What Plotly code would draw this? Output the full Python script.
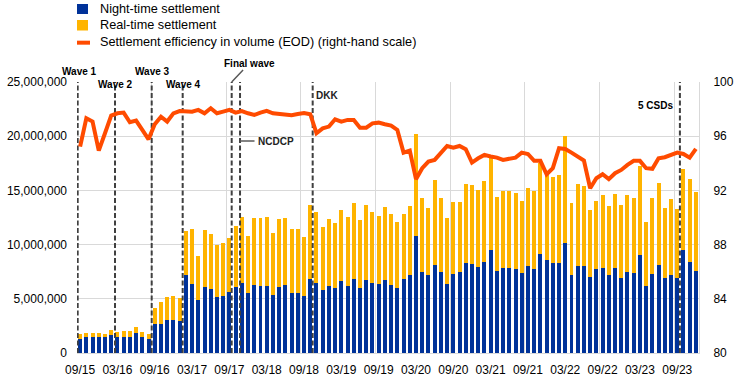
import plotly.graph_objects as go

# ---------------- data ----------------
# Monthly observations from 09/2015 to 12/2023 (100 months)
months = [f"{m:02d}/{y % 100:02d}" for y in range(2015, 2024) for m in range(1, 13)][8:]

night_m = [1.32, 1.44, 1.44, 1.44, 1.44, 1.69, 1.50, 1.50, 1.50, 1.87,
           1.44, 1.26, 2.70, 2.70, 3.01, 3.07, 2.98, 7.22, 6.39, 4.91,
           6.11, 5.93, 5.19, 5.28, 5.65, 6.11, 6.48, 5.56, 6.30, 6.20,
           6.20, 5.37, 6.11, 6.30, 5.56, 5.56, 5.28, 6.85, 6.48, 5.84,
           6.20, 6.02, 6.66, 6.20, 6.85, 6.02, 6.76, 6.48, 6.39, 6.76,
           6.30, 6.02, 6.85, 7.22, 10.81, 7.49, 7.22, 8.14, 7.49, 6.39,
           7.31, 7.49, 8.32, 8.23, 7.95, 8.42, 9.52, 7.59, 7.86, 7.86,
           7.77, 7.40, 8.05, 7.77, 9.15, 8.60, 8.32, 8.32, 10.17, 7.22,
           8.05, 8.05, 7.03, 7.77, 7.86, 7.22, 7.86, 6.94, 7.49, 7.40,
           9.06, 6.20, 7.31, 8.14, 6.94, 7.22, 6.94, 9.52, 8.42, 7.59]

total_m = [1.78, 1.87, 1.87, 1.87, 1.78, 2.15, 1.97, 2.06, 2.06, 2.43,
           1.97, 1.78, 4.18, 4.73, 5.19, 5.28, 5.10, 11.27, 11.46, 8.97,
           11.36, 11.00, 9.98, 10.17, 10.63, 11.73, 12.56, 10.81, 12.44, 12.50,
           12.56, 11.09, 12.38, 12.47, 11.46, 11.46, 10.72, 13.67, 13.02, 11.64,
           12.38, 12.01, 13.21, 12.56, 13.85, 12.29, 13.67, 13.02, 12.65, 13.48,
           12.84, 12.10, 12.84, 13.57, 20.21, 14.31, 13.39, 15.97, 14.31, 12.47,
           13.94, 13.94, 15.60, 15.51, 15.05, 15.88, 18.00, 14.40, 14.96, 14.96,
           14.77, 14.04, 15.23, 14.96, 17.54, 16.52, 16.25, 16.43, 20.02, 13.85,
           15.60, 15.42, 13.21, 14.04, 14.59, 13.57, 14.68, 13.67, 14.59, 14.31,
           17.26, 12.10, 14.31, 15.69, 13.39, 14.22, 13.30, 16.98, 16.06, 14.86]

efficiency = [95.23, 97.32, 97.08, 94.94, 96.22, 97.52, 97.69, 97.74, 97.03, 97.15,
              96.46, 95.77, 96.88, 97.44, 97.08, 97.69, 97.86, 97.86, 97.81, 97.94,
              97.69, 98.06, 97.69, 97.81, 97.94, 97.74, 97.85, 97.69, 97.57, 97.74,
              97.87, 97.69, 97.64, 97.62, 97.55, 97.64, 97.71, 97.62, 96.22, 96.58,
              96.71, 97.25, 97.08, 97.20, 97.20, 96.63, 96.63, 96.95, 97.00, 96.88,
              96.78, 96.46, 94.79, 94.94, 92.83, 93.64, 94.13, 94.25, 94.74, 95.28,
              95.16, 95.28, 95.04, 94.05, 94.37, 94.62, 94.50, 94.42, 94.25, 94.32,
              94.42, 94.79, 94.69, 94.18, 94.18, 93.19, 93.64, 95.11, 95.06, 94.79,
              94.45, 94.20, 92.16, 92.90, 93.19, 92.83, 93.27, 93.51, 93.88, 94.18,
              94.18, 93.64, 93.59, 94.37, 94.45, 94.62, 94.79, 94.69, 94.42, 95.06]

# Events (position in months from 09/2015)
event_names = ["Wave 1", "Wave 2", "Wave 3", "Wave 4", "Final wave", "NCDCP", "DKK", "5 CSDs"]
event_pos = [-0.39, 5.61, 11.51, 16.49, 24.37, 25.71, 37.39, 96.43]

tick_labels = ["09/15", "03/16", "09/16", "03/17", "09/17", "03/18", "09/18", "03/19",
               "09/19", "03/20", "09/20", "03/21", "09/21", "03/22", "09/22", "03/23", "09/23"]

# ---------------- derived ----------------
x = list(range(len(night_m)))
night = [v * 1e6 for v in night_m]
realtime = [(t - n) * 1e6 for t, n in zip(total_m, night_m)]
tick_pos = [i for i in x if months[i] in tick_labels]

BLUE = "#003299"
YELLOW = "#FFB400"
ORANGE = "#FF4B00"
GRID = "#d9d9d9"
DASH = "#404040"
FONT = "Arial, Liberation Sans, sans-serif"

fig = go.Figure()
fig.add_trace(go.Bar(x=x, y=night, name="Night-time settlement", marker_color=BLUE,
                     marker_line_width=0, width=0.64, showlegend=False,
                     hovertext=months))
fig.add_trace(go.Bar(x=x, y=realtime, name="Real-time settlement", marker_color=YELLOW,
                     marker_line_width=0, width=0.64, showlegend=False,
                     hovertext=months))

for p in event_pos:
    fig.add_trace(go.Scatter(x=[p, p], y=[0, 25e6], mode="lines",
                             line=dict(color=DASH, width=2, dash="5px,2.5px"),
                             hoverinfo="skip", showlegend=False))

fig.add_trace(go.Scatter(x=x, y=efficiency, yaxis="y2", mode="lines",
                         name="Settlement efficiency in volume (EOD) (right-hand scale)",
                         line=dict(color=ORANGE, width=4), showlegend=False,
                         hovertext=months))

# ---------------- annotations ----------------
ann = []
lab = dict(zip(event_names, event_pos))
bold = dict(family=FONT, size=10, color="#000000")
ann.append(dict(x=lab["Wave 1"], y=1.066, xref="x", yref="paper", text="<b>Wave 1</b>",
                showarrow=False, font=bold, xshift=2))
ann.append(dict(x=lab["Wave 2"], y=1.018, xref="x", yref="paper", text="<b>Wave 2</b>",
                showarrow=False, font=bold))
ann.append(dict(x=lab["Wave 3"], y=1.066, xref="x", yref="paper", text="<b>Wave 3</b>",
                showarrow=False, font=bold, xshift=1))
ann.append(dict(x=lab["Wave 4"], y=1.018, xref="x", yref="paper", text="<b>Wave 4</b>",
                showarrow=False, font=bold, xshift=1))
ann.append(dict(x=lab["Final wave"], y=1.0, xref="x", yref="paper", text="<b>Final wave</b>",
                showarrow=True, arrowhead=0, arrowwidth=1.5, arrowcolor="#595959",
                ax=18, ay=-19, font=bold, standoff=0))
ann.append(dict(x=lab["NCDCP"], y=0.782, xref="x", yref="paper", text="<b>NCDCP</b>",
                showarrow=True, arrowhead=0, arrowwidth=1.5, arrowcolor="#595959",
                ax=36, ay=0, font=dict(family=FONT, size=10, color="#222222"),
                standoff=0, borderpad=3))
ann.append(dict(x=lab["DKK"], y=0.978, xref="x", yref="paper", text="<b>DKK</b>",
                showarrow=False, xanchor="left", xshift=1,
                font=dict(family=FONT, size=10, color="#222222")))
ann.append(dict(x=lab["5 CSDs"], y=0.942, xref="x", yref="paper", text="<b>5 CSDs</b>",
                showarrow=False, xanchor="right", xshift=-5, font=bold))

# manual legend
leg_font = dict(family=FONT, size=12.7, color="#000000")
leg_items = [("Night-time settlement", 1.2694), ("Real-time settlement", 1.2103),
             ("Settlement efficiency in volume (EOD) (right-hand scale)", 1.1476)]
for txt, yy in leg_items:
    ann.append(dict(x=0.0338, y=yy, xref="paper", yref="paper", text=txt, showarrow=False,
                    xanchor="left", yanchor="middle", font=leg_font))

shapes = [
    dict(type="rect", xref="paper", yref="paper", x0=0, x1=0.0177, y0=1.2509, y1=1.2878,
         fillcolor=BLUE, line_width=0),
    dict(type="rect", xref="paper", yref="paper", x0=0, x1=0.0177, y0=1.1900, y1=1.2288,
         fillcolor=YELLOW, line_width=0),
    dict(type="line", xref="paper", yref="paper", x0=0, x1=0.0209, y0=1.1451, y1=1.1451,
         line=dict(color=ORANGE, width=4)),
]

fig.update_layout(
    width=745, height=379,
    margin=dict(l=77, r=46, t=82, b=26, autoexpand=False),
    paper_bgcolor="white", plot_bgcolor="white",
    barmode="stack", bargap=0,
    font=dict(family=FONT, size=12, color="#000000"),
    annotations=ann, shapes=shapes,
    hovermode="closest",
    xaxis=dict(range=[-0.5, len(x) - 0.5], tickmode="array", tickvals=tick_pos,
               ticktext=tick_labels, showgrid=False, zeroline=False, automargin=False,
               showline=True, linecolor=GRID, linewidth=1, ticks="",
               ticklabelstandoff=6, tickfont=dict(size=12),
               minor=dict(tickvals=[-0.5 + 12 * k for k in range(9)], showgrid=True,
                          gridcolor=GRID, gridwidth=1, ticks="")),
    yaxis=dict(range=[0, 25e6], dtick=5e6, tickformat=",", showgrid=True, automargin=False,
               gridcolor=GRID, gridwidth=1, zeroline=False, ticks="",
               ticklabelstandoff=9, tickfont=dict(size=12)),
    yaxis2=dict(range=[80, 100], dtick=4, overlaying="y", side="right", showgrid=False,
                zeroline=False, showline=True, linecolor=GRID, linewidth=1, ticks="",
                automargin=False, ticklabelstandoff=11, tickfont=dict(size=12)),
)

# remove the default 8px page margin so the figure fills the window exactly
fig.write_html("out.html", config={"displayModeBar": False},
               post_script="document.body.style.margin='0';")
